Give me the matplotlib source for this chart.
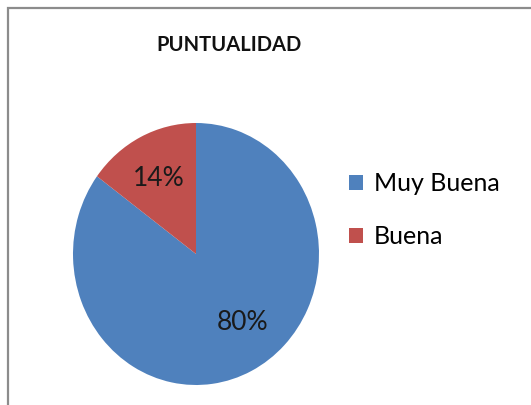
import numpy as np
import matplotlib
matplotlib.use("Agg")
import matplotlib.pyplot as plt
from matplotlib.patches import Rectangle

# Data
categories = ["Muy Buena", "Buena"]
values = [80, 14]
pct_labels = ["80%", "14%"]
colors = ["#4F81BD", "#C0504D"]

plt.rcParams['font.family'] = ['Lato', 'DejaVu Sans']

W, H = 531, 405
fig = plt.figure(figsize=(W / 100, H / 100), dpi=100)

# gray chart frame (runs off the right and bottom)
fig.patches.append(Rectangle((8 / W, -0.1), 1.2, 1 - 8 / H + 0.1,
                             transform=fig.transFigure, fill=False,
                             edgecolor="#8c8c8c", linewidth=1.6))

# pie axes: center (196, 254) px, radii 123 x 131 px
cx, cy, rx, ry = 196, 254, 123, 131
ax = fig.add_axes([(cx - rx) / W, 1 - (cy + ry) / H, 2 * rx / W, 2 * ry / H])
wedges, _ = ax.pie(values, colors=colors, startangle=90, counterclock=False,
                   wedgeprops=dict(linewidth=0))
ax.set_aspect('auto')
ax.set_xlim(-1, 1)
ax.set_ylim(-1, 1)

# label distances along the wedge middle (x, y factors), excel-like placement
label_r = [(0.84, 0.59), (0.68, 0.65)]
for w, lab, (fx, fy) in zip(wedges, pct_labels, label_r):
    theta = np.deg2rad((w.theta1 + w.theta2) / 2)
    ax.text(fx * np.cos(theta), fy * np.sin(theta), lab,
            ha='center', va='center', fontsize=19, color="#1a1a1a")

fig.text(229 / W, 1 - 45 / H, "PUNTUALIDAD", ha='center', va='center',
         fontsize=14.5, fontweight='bold', color="#111111")

fig.legend(wedges, categories, loc='center left',
           bbox_to_anchor=(349 / W, 1 - 210 / H), frameon=False,
           fontsize=18, handlelength=0.55, handleheight=0.55,
           handletextpad=0.45, labelspacing=1.2,
           borderpad=0, borderaxespad=0)

fig.savefig("out.png", dpi=100)
